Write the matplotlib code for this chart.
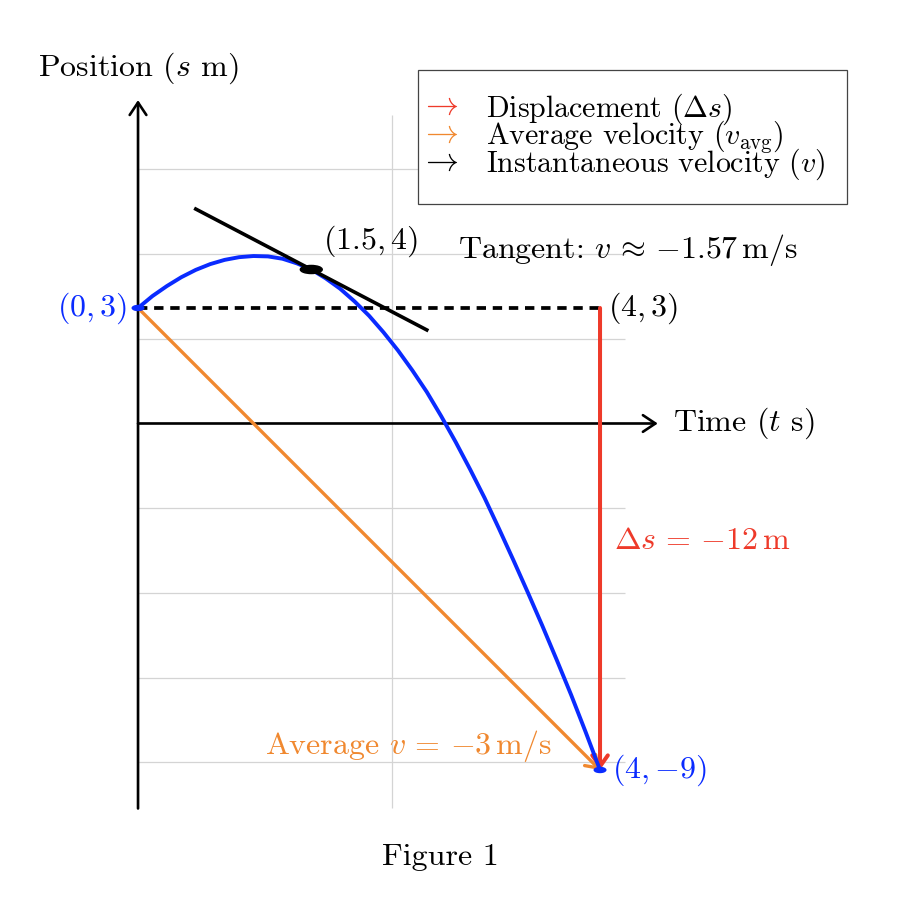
import matplotlib.pyplot as plt
from matplotlib.patches import Ellipse
from matplotlib.lines import Line2D

plt.rcParams['font.family'] = 'cmr10'
plt.rcParams['mathtext.fontset'] = 'cm'
plt.rcParams['axes.unicode_minus'] = False

# position curve s(t)
t = [0, 0.125, 0.25, 0.375, 0.5, 0.625, 0.75, 0.875, 1.0, 1.125, 1.25, 1.375, 1.5,
     1.625, 1.75, 1.875, 2.0, 2.125, 2.25, 2.375, 2.5, 2.625, 2.75, 2.875, 3.0,
     3.125, 3.25, 3.375, 3.5, 3.625, 3.75, 3.875, 4.0]
s = [3.00, 3.31, 3.57, 3.80, 3.99, 4.14, 4.25, 4.32, 4.35, 4.34, 4.28, 4.16, 4.00,
     3.77, 3.50, 3.17, 2.80, 2.37, 1.90, 1.38, 0.82, 0.19, -0.48, -1.19, -1.93,
     -2.73, -3.55, -4.39, -5.25, -6.14, -7.05, -8.01, -9.00]

start = (0, 3)
end = (4, -9)
tan_pt = (1.5, 4)
tan_slope = -1.57
tan_t = [0.5, 2.5]
v_avg = (end[1] - start[1]) / (end[0] - start[0])
disp = end[1] - start[1]

grid_step = 2.2
BLUE = '#0a2bff'
RED = '#ee3a2a'
ORANGE = '#f0882f'
FS = 23

fig = plt.figure(figsize=(9.18, 9.0), dpi=100)
ax = fig.add_axes([0, 0, 1, 1])
ax.set_xlim(-1.195, 6.753)
ax.set_ylim(-12.377, 11.0)
ax.axis('off')

# background grid
gy = [k * grid_step for k in range(-4, 4)]
gx = [0, grid_step]
ax.hlines(gy, 0, 4.22, color='#d4d4d4', lw=0.9, zorder=0)
ax.vlines(gx, -10, 8, color='#d4d4d4', lw=0.9, zorder=0)

# axes with arrows
ax_arrow = dict(arrowstyle='->,head_length=0.45,head_width=0.3', lw=1.9, color='black',
                shrinkA=0, shrinkB=0, mutation_scale=20)
ax.annotate('', xy=(4.5, 0), xytext=(0, 0), arrowprops=ax_arrow)
ax.annotate('', xy=(0, 8.4), xytext=(0, -10), arrowprops=ax_arrow)
ax.text(0, 9.23, r'Position ($s$ m)', ha='center', va='center', fontsize=FS)
ax.text(4.63, 0, r'Time ($t$ s)', ha='left', va='center', fontsize=FS)

# dashed reference line at s = 3
ax.plot([start[0], end[0]], [start[1], start[1]], color='black', lw=2.7,
        ls=(0, (2.5, 1.8)), zorder=2)

# displacement and average velocity arrows
ax.annotate('', xy=end, xytext=(end[0], start[1]),
            arrowprops=dict(arrowstyle='->,head_length=0.4,head_width=0.28', lw=2.9,
                            color=RED, shrinkA=0, shrinkB=0, mutation_scale=20), zorder=3)
ax.annotate('', xy=end, xytext=start,
            arrowprops=dict(arrowstyle='->,head_length=0.4,head_width=0.28', lw=2.4,
                            color=ORANGE, shrinkA=0, shrinkB=0, mutation_scale=20), zorder=3)

# position curve
ax.plot(t, s, color=BLUE, lw=2.8, zorder=4, solid_capstyle='round', solid_joinstyle='round')

# tangent line at t = 1.5
tan_s = [tan_pt[1] + tan_slope * (x - tan_pt[0]) for x in tan_t]
ax.plot(tan_t, tan_s, color='black', lw=2.6, zorder=5)

# points
ax.add_patch(Ellipse(start, 0.1, 0.13, color=BLUE, zorder=6))
ax.add_patch(Ellipse(end, 0.1, 0.13, color=BLUE, zorder=6))
ax.add_patch(Ellipse(tan_pt, 0.19, 0.21, color='black', zorder=6))

ax.text(-0.095, start[1], r'$(0, 3)$', color=BLUE, ha='right', va='center', fontsize=FS)
ax.text(4.07, start[1], r'$(4, 3)$', color='black', ha='left', va='center', fontsize=FS)
ax.text(4.10, end[1], r'$(4, {-}9)$', color=BLUE, ha='left', va='center', fontsize=FS)
ax.text(2.017, 4.74, r'$(1.5, 4)$', ha='center', va='center', fontsize=FS)
ax.text(4.24, 4.5, r'Tangent: $v\,\approx\,{-}%.2f\,\mathrm{m/s}$' % abs(tan_slope),
        ha='center', va='center', fontsize=FS)
ax.text(4.12, -3.05, r'$\Delta s\,=\,{-}%d\,\mathrm{m}$' % abs(disp), color=RED,
        ha='left', va='center', fontsize=FS)
ax.text(3.576, -8.38, r'Average $v\,=\,{-}%d\,\mathrm{m/s}$' % abs(v_avg), color=ORANGE,
        ha='right', va='center', fontsize=FS)

# legend
handles = [Line2D([], [], color=c, marker=r'$\rightarrow$', ls='None', markersize=21, mew=0)
           for c in [RED, ORANGE, 'black']]
labels = [r'Displacement ($\Delta s$)', r'Average velocity ($v_{\mathrm{avg}}$)',
          r'Instantaneous velocity ($v$)']
leg = ax.legend(handles, labels, loc='upper left', bbox_to_anchor=(418 / 918, 1 - 70 / 900),
                bbox_transform=fig.transFigure, borderaxespad=0, fontsize=21.5,
                frameon=True, fancybox=False, edgecolor='#444444', framealpha=1,
                borderpad=0.72, handlelength=0.2, handletextpad=1.35, labelspacing=-0.28)
leg.get_frame().set_linewidth(0.9)

fig.text(440 / 918, 1 - 857 / 900, 'Figure 1', ha='center', va='center', fontsize=FS)

fig.savefig('out.png', dpi=100, facecolor='white')
